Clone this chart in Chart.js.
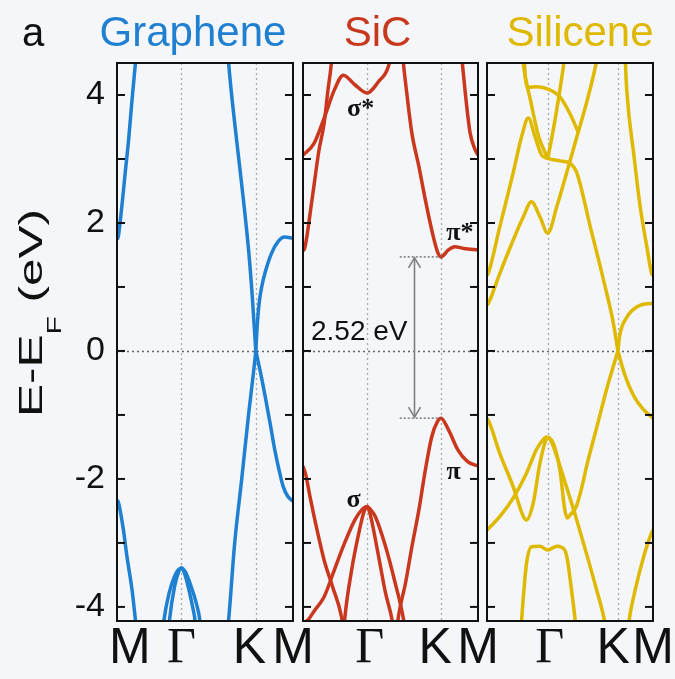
<!DOCTYPE html>
<html>
<head>
<meta charset="utf-8">
<script src="https://cdn.jsdelivr.net/npm/chart.js@4.4.1/dist/chart.umd.min.js"></script>
<style>
  html, body { margin: 0; padding: 0; background: #f4f6f9; }
  #wrap { position: relative; width: 675px; height: 679px; overflow: hidden; }
  canvas { position: absolute; top: 0; }
</style>
</head>
<body>
<div id="wrap">
  <canvas id="graphene" width="340" height="679" style="left:0px"></canvas>
  <canvas id="sic" width="260" height="679" style="left:260px"></canvas>
  <canvas id="silicene" width="234" height="679" style="left:445px"></canvas>
</div>
<script>
// k-path M-Γ-K-M, in units of |ΓM|
const kM = 0, kG = 1, kK = 2.1547, kM2 = 2.732;

// energy window, eV relative to E_F
const eMin = -4.22, eMax = 4.5;

// graphene bands, [k, E]
const grPiStarM = [[0,1.74],[0.02,1.79],[0.075,2.26],[0.127,2.78],[0.18,3.30],[0.233,3.92],[0.286,4.50],[0.33,5.0]];
const grPiStarK = [[1.70,5.0],[1.733,4.5],[1.827,3.56],[1.936,2.6],[2.045,1.55],[2.10,0.85],[kK,0]];
const grPiStarKM = [[kK,0],[2.18,0.45],[2.21,0.78],[2.25,1.02],[2.30,1.23],[2.40,1.53],[2.50,1.71],[2.60,1.78],[kM2,1.76]];
const grPiM = [[0,-2.33],[0.02,-2.36],[0.10,-2.80],[0.154,-3.21],[0.233,-3.73],[0.286,-4.2],[0.33,-4.6]];
const grPiK = [[1.69,-4.6],[1.733,-4.2],[1.827,-3.0],[1.936,-2.0],[2.045,-0.97],[2.123,-0.3],[kK,0]];
const grPiKM = [[kK,0],[2.22,-0.30],[2.30,-0.71],[2.38,-1.15],[2.45,-1.55],[2.52,-1.88],[2.58,-2.12],[2.65,-2.27],[kM2,-2.35]];
const grSigma1 = [[0.69,-4.6],[0.73,-4.2],[0.81,-3.78],[0.89,-3.53],[0.95,-3.42],[1.0,-3.39],[1.06,-3.45],[1.15,-3.68],[1.23,-3.94],[1.285,-4.2],[1.32,-4.6]];
const grSigma2 = [[0.78,-4.6],[0.815,-4.2],[0.894,-3.68],[0.957,-3.45],[1.0,-3.39],[1.05,-3.48],[1.12,-3.75],[1.17,-3.98],[1.21,-4.2],[1.25,-4.6]];

// SiC band edges at K
const sicVbm = -1.05, sicCbm = 1.47;

// SiC bands, [k, E]
const sicPiStarM = [[0,1.56],[0.03,1.62],[0.14,2.36],[0.25,3.14],[0.33,3.56],[0.39,4.08],[0.44,4.47],[0.48,5.0]];
const sicSigmaStar = [[0,3.06],[0.17,3.24],[0.33,3.64],[0.49,4.08],[0.63,4.31],[0.81,4.16],[1.0,4.03],[1.18,4.21],[1.34,4.47],[1.40,4.8]];
const sicPiStarK = [[1.52,5.0],[1.57,4.47],[1.62,4.03],[1.70,3.40],[1.81,2.88],[1.91,2.36],[2.01,1.89],[2.10,1.55],[kK,sicCbm],[2.27,1.58],[2.37,1.63],[2.51,1.60],[kM2,1.58]];
const sicSigmaStarM2 = [[2.44,5.0],[2.49,4.47],[2.54,3.97],[2.61,3.40],[2.69,3.14],[kM2,3.06]];
const sicPiM = [[0,-1.80],[0.04,-1.92],[0.11,-2.28],[0.22,-2.80],[0.33,-3.27],[0.46,-3.68],[0.60,-4.15],[0.65,-4.5]];
const sicPiK = [[1.45,-4.5],[1.49,-4.15],[1.60,-3.63],[1.70,-3.06],[1.81,-2.48],[1.91,-1.86],[2.01,-1.34],[2.10,-1.10],[kK,sicVbm],[2.27,-1.23],[2.42,-1.55],[2.57,-1.73],[kM2,-1.80]];
const sicSigma1 = [[0,-4.25],[0.08,-4.2],[0.17,-4.07],[0.33,-3.84],[0.49,-3.42],[0.65,-3.0],[0.81,-2.64],[0.92,-2.48],[1.0,-2.43],[1.07,-2.50],[1.13,-2.59],[1.29,-3.06],[1.44,-3.63],[1.57,-4.2],[1.61,-4.5]];
const sicSigma2 = [[0.62,-4.6],[0.65,-4.2],[0.76,-3.42],[0.87,-2.85],[0.95,-2.52],[1.0,-2.43],[1.04,-2.52],[1.08,-2.69],[1.18,-3.21],[1.29,-3.79],[1.39,-4.2],[1.43,-4.5]];

// silicene bands, [k, E]
const siBandA = [[0,1.18],[0.02,1.21],[0.21,1.94],[0.43,2.78],[0.57,3.35],[0.68,3.64],[0.79,3.35],[0.90,3.06],[1.0,3.01],[1.20,2.97],[1.37,2.93],[1.48,2.78],[1.70,1.94],[1.93,1.06],[2.07,0.48],[kK,0]];
const siBandB = [[0,0.72],[0.02,0.74],[0.21,1.21],[0.43,1.73],[0.60,2.10],[0.73,2.33],[0.87,2.10],[1.0,1.84],[1.15,2.26],[1.31,2.78],[1.48,3.35],[1.65,3.92],[1.79,4.47],[1.85,4.8]];
const siBandC = [[0.57,4.8],[0.60,4.47],[0.72,3.9],[0.85,3.35],[1.0,3.01]];
const siBandD = [[1.0,3.01],[1.08,3.4],[1.17,3.9],[1.26,4.47],[1.30,4.8]];
const siBandE = [[0.60,4.8],[0.63,4.3],[0.68,4.12],[0.81,4.13],[0.98,4.10],[1.20,3.97],[1.38,3.68],[1.50,3.42]];
const siBandF = [[2.27,4.8],[2.28,4.47],[2.30,4.08],[2.42,3.04],[2.52,2.26],[2.63,1.63],[2.71,1.21],[kM2,1.18]];
const siPiStarKM = [[kK,0],[2.18,0.22],[2.31,0.54],[2.47,0.69],[2.71,0.74],[kM2,0.74]];
const siSigmaA = [[0,-1.06],[0.02,-1.08],[0.21,-1.60],[0.43,-2.12],[0.60,-2.59],[0.65,-2.64],[0.76,-2.38],[0.87,-1.76],[0.98,-1.36],[1.0,-1.34]];
const siSigmaB = [[0,-2.80],[0.02,-2.78],[0.21,-2.59],[0.43,-2.30],[0.65,-1.91],[0.81,-1.55],[0.95,-1.36],[1.0,-1.34]];
const siPiGK = [[1.0,-1.34],[1.09,-1.44],[1.20,-1.86],[1.28,-2.48],[1.32,-2.61],[1.37,-2.56],[1.47,-2.43],[1.55,-2.17],[1.65,-1.76],[1.81,-1.18],[1.98,-0.56],[kK,0]];
const siPiKM = [[kK,0],[2.26,-0.35],[2.42,-0.71],[2.58,-0.92],[2.71,-1.03],[kM2,-1.05]];
const siSigmaC = [[1.0,-1.34],[1.06,-1.42],[1.15,-1.65],[1.30,-2.1],[1.47,-2.62],[1.65,-3.21],[1.80,-3.72],[1.93,-4.2],[1.98,-4.5]];
const siDeep = [[0.55,-4.5],[0.57,-4.2],[0.62,-3.6],[0.65,-3.32],[0.73,-3.06],[0.87,-3.05],[1.0,-3.11],[1.15,-3.05],[1.28,-3.11],[1.33,-3.3],[1.37,-3.58],[1.45,-4.2],[1.48,-4.5]];
const siDeepM2 = [[2.30,-4.5],[2.34,-4.2],[2.44,-3.73],[2.58,-3.21],[2.71,-2.84],[kM2,-2.80]];

// band labels in the SiC panel
const sicBandNames = [
  { text: 'σ*', k: 0.90, e: 3.77 },
  { text: 'π*', k: 2.45, e: 1.84 },
  { text: 'σ', k: 0.79, e: -2.33 },
  { text: 'π', k: 2.35, e: -1.89 }
];

const SANS = '"Liberation Sans", Arial, sans-serif';
const SERIF = '"Liberation Serif", "Times New Roman", serif';

function line(ctx, x1, y1, x2, y2) {
  ctx.beginPath(); ctx.moveTo(x1, y1); ctx.lineTo(x2, y2); ctx.stroke();
}

// dotted guides under the bands, frame and inward ticks on top
const decor = {
  id: 'decor',
  beforeDatasetsDraw(chart) {
    const { ctx, chartArea: a, scales: { x, y } } = chart;
    ctx.save();
    ctx.lineWidth = 1.3;
    ctx.setLineDash([2, 3]);
    ctx.strokeStyle = '#a9a9a9';
    for (const k of [kG, kK]) {
      const px = Math.round(x.getPixelForValue(k)) + 0.5;
      line(ctx, px, a.top, px, a.bottom);
    }
    ctx.strokeStyle = '#666';
    const py = Math.round(y.getPixelForValue(0)) + 0.5;
    line(ctx, a.left, py, a.right, py);
    ctx.restore();
  },
  afterDatasetsDraw(chart) {
    const { ctx, chartArea: a, scales: { y } } = chart;
    ctx.save();
    ctx.strokeStyle = '#111';
    ctx.lineWidth = 2;
    ctx.strokeRect(a.left, a.top, a.right - a.left, a.bottom - a.top);
    for (let e = Math.ceil(eMin); e <= Math.floor(eMax); e++) {
      const py = y.getPixelForValue(e);
      line(ctx, a.left, py, a.left + 8, py);
      line(ctx, a.right - 8, py, a.right, py);
    }
    ctx.restore();
  }
};

const panelTitle = {
  id: 'panelTitle',
  afterDraw(chart, args, opts) {
    const { ctx, chartArea: a } = chart;
    ctx.save();
    ctx.font = '42px ' + SANS;
    ctx.textAlign = 'center';
    ctx.fillStyle = opts.color;
    ctx.fillText(opts.text, (a.left + a.right) / 2 + opts.shift, 46);
    if (opts.tag) {
      ctx.font = '40px ' + SANS;
      ctx.fillStyle = '#111';
      ctx.fillText(opts.tag, 33, 46);
    }
    ctx.restore();
  }
};

// rotated "E-E_F (eV)" on the energy axis
const energyTitle = {
  id: 'energyTitle',
  afterDraw(chart) {
    const { ctx } = chart;
    const big = '33px ' + SANS, small = '20px ' + SANS;
    ctx.save();
    ctx.translate(30, 313);
    ctx.rotate(-Math.PI / 2);
    ctx.scale(1.5, 1);
    ctx.fillStyle = '#111';
    ctx.font = big;
    const w1 = ctx.measureText('E-E').width;
    const w3 = ctx.measureText(' (eV)').width;
    ctx.font = small;
    const w2 = ctx.measureText('F').width;
    const x0 = -(w1 + w2 + w3) / 2;
    ctx.font = big;
    ctx.fillText('E-E', x0, 12);
    ctx.fillText(' (eV)', x0 + w1 + w2, 12);
    ctx.font = small;
    ctx.fillText('F', x0 + w1, 31);
    ctx.restore();
  }
};

// SiC gap arrow and band names
const gapMarks = {
  id: 'gapMarks',
  afterDatasetsDraw(chart) {
    const { ctx, scales: { x, y } } = chart;
    const xl = x.getPixelForValue(1.51), xr = x.getPixelForValue(kK);
    const xa = Math.round(x.getPixelForValue(1.73)) + 0.5;
    const yc = y.getPixelForValue(sicCbm), yv = y.getPixelForValue(sicVbm);
    ctx.save();
    ctx.lineWidth = 1.3;
    ctx.strokeStyle = '#666';
    ctx.setLineDash([2, 2]);
    line(ctx, xl, yc, xr, yc);
    line(ctx, xl, yv, xr, yv);
    ctx.setLineDash([]);
    ctx.strokeStyle = '#808080';
    ctx.lineWidth = 1.6;
    line(ctx, xa, yc + 1, xa, yv - 1);
    ctx.beginPath();
    ctx.moveTo(xa - 6, yc + 11); ctx.lineTo(xa, yc + 1); ctx.lineTo(xa + 6, yc + 11);
    ctx.moveTo(xa - 6, yv - 11); ctx.lineTo(xa, yv - 1); ctx.lineTo(xa + 6, yv - 11);
    ctx.stroke();
    ctx.fillStyle = '#111';
    ctx.font = '28px ' + SANS;
    ctx.textAlign = 'right';
    ctx.fillText((sicCbm - sicVbm).toFixed(2) + ' eV', xa - 7, y.getPixelForValue(0.33) + 10);
    ctx.font = 'bold 26px ' + SERIF;
    ctx.textAlign = 'center';
    ctx.textBaseline = 'middle';
    for (const n of sicBandNames) {
      ctx.fillText(n.text, x.getPixelForValue(n.k), y.getPixelForValue(n.e));
    }
    ctx.restore();
  }
};

function bandSets(bands, color) {
  return bands.map(b => ({
    data: b.map(([k, e]) => ({ x: k, y: e })),
    borderColor: color,
    borderWidth: 3.5,
    pointRadius: 0,
    showLine: true,
    fill: false,
    cubicInterpolationMode: 'monotone',
    clip: 0
  }));
}

// labels sit slightly off the symmetry points so neighbours do not collide
function xScale(labels, at) {
  return {
    type: 'linear', min: kM, max: kM2,
    afterBuildTicks: s => { s.ticks = at.map(v => ({ value: v })); },
    afterFit: s => { s.height = 58; },
    grid: { display: false, drawTicks: false },
    border: { display: false },
    ticks: {
      autoSkip: false, maxRotation: 0, padding: -2, color: '#111',
      font: c => ({ family: labels[c.index] === 'Γ' ? SERIF : SANS, size: 50 }),
      callback: (v, i) => labels[i]
    }
  };
}

function yScale(show) {
  const s = {
    type: 'linear', min: eMin, max: eMax, display: show,
    grid: { display: false, drawTicks: false },
    border: { display: false },
    ticks: {
      stepSize: 1, includeBounds: false, autoSkip: false, padding: 12, color: '#111',
      font: { family: SANS, size: 34 },
      callback: v => (v % 2 === 0 ? String(v) : '')
    }
  };
  if (show) s.afterFit = sc => { sc.width = 117; };
  return s;
}

function makeChart(id, bands, color, cfg) {
  return new Chart(document.getElementById(id), {
    type: 'scatter',
    data: { datasets: bandSets(bands, color) },
    options: {
      responsive: false,
      animation: false,
      events: [],
      layout: { padding: { top: 63, bottom: 0, left: cfg.padLeft, right: cfg.padRight } },
      plugins: {
        legend: { display: false },
        tooltip: { enabled: false },
        panelTitle: { text: cfg.title, color: color, shift: cfg.shift, tag: cfg.tag }
      },
      scales: { x: xScale(cfg.labels, cfg.labelAt), y: yScale(cfg.showY) }
    },
    plugins: [decor, panelTitle].concat(cfg.extra || [])
  });
}

makeChart('graphene',
  [grPiStarM, grPiStarK, grPiStarKM, grPiM, grPiK, grPiKM, grSigma1, grSigma2],
  '#1f7fd0',
  { title: 'Graphene', tag: 'a', shift: -12, showY: true,
    labels: ['M', 'Γ', 'K', 'M'], labelAt: [0.2, kG, kK - 0.1, kM2],
    padLeft: 0, padRight: 47, extra: [energyTitle] });

makeChart('sic',
  [sicPiStarM, sicSigmaStar, sicPiStarK, sicSigmaStarM2, sicPiM, sicPiK, sicSigma1, sicSigma2],
  '#c9371d',
  { title: 'SiC', shift: -13, showY: false,
    labels: ['', 'Γ', 'K', 'M'], labelAt: [kM, kG + 0.04, kK - 0.09, kM2],
    padLeft: 43, padRight: 42, extra: [gapMarks] });

makeChart('silicene',
  [siBandA, siBandB, siBandC, siBandD, siBandE, siBandF, siPiStarKM,
   siSigmaA, siSigmaB, siPiGK, siPiKM, siSigmaC, siDeep, siDeepM2],
  '#dfb800',
  { title: 'Silicene', shift: 10, showY: false,
    labels: ['', 'Γ', 'K', 'M'], labelAt: [kM, kG + 0.03, kK - 0.08, kM2],
    padLeft: 42, padRight: 26 });
</script>
</body>
</html>
